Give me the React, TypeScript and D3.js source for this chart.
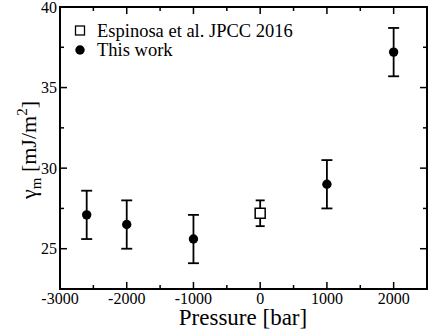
import React from "react";
import * as d3 from "d3";

const pressures = [-2600, -2000, -1000, 1000, 2000];
const gammaWork = [27.1, 26.5, 25.6, 29.0, 37.2];
const errWork = [1.5, 1.5, 1.5, 1.5, 1.5];

const refPressure = [0];
const refGamma = [27.2];
const refErr = [0.8];

const xTicks = [-3000, -2000, -1000, 0, 1000, 2000];
const yTicks = [25, 30, 35, 40];
const xMinor = [-2500, -1500, -500, 500, 1500];
const yMinor = [27.5, 32.5, 37.5];

const W = 429, H = 330;
const L = 60, R = 427, T = 7, B = 289;
const F = "Liberation Serif";

export default function App() {
  const x = d3.scaleLinear().domain([-3000, 2500]).range([L, R]);
  const y = d3.scaleLinear().domain([22.5, 40]).range([B, T]);
  const sw = 1.8;

  const errBar = (px: number, v: number, e: number, cap: number, key: string) => (
    <g key={key} stroke="#000" strokeWidth={sw}>
      <line x1={x(px)} x2={x(px)} y1={y(v - e)} y2={y(v + e)} />
      <line x1={x(px) - cap} x2={x(px) + cap} y1={y(v - e)} y2={y(v - e)} />
      <line x1={x(px) - cap} x2={x(px) + cap} y1={y(v + e)} y2={y(v + e)} />
    </g>
  );

  return (
    <svg width={W} height={H} style={{ position: "absolute", left: 0, top: 0 }}>
      <rect width={W} height={H} fill="#fff" />
      <g stroke="#000" strokeWidth={1.5}>
        {xTicks.map((t) => (
          <g key={"xt" + t}>
            <line x1={x(t)} x2={x(t)} y1={B} y2={B - 7} />
            <line x1={x(t)} x2={x(t)} y1={T} y2={T + 7} />
          </g>
        ))}
        {xMinor.map((t) => (
          <g key={"xm" + t}>
            <line x1={x(t)} x2={x(t)} y1={B} y2={B - 4} />
            <line x1={x(t)} x2={x(t)} y1={T} y2={T + 4} />
          </g>
        ))}
        {yTicks.map((t) => (
          <g key={"yt" + t}>
            <line x1={L} x2={L + 7} y1={y(t)} y2={y(t)} />
            <line x1={R} x2={R - 7} y1={y(t)} y2={y(t)} />
          </g>
        ))}
        {yMinor.map((t) => (
          <g key={"ym" + t}>
            <line x1={L} x2={L + 4} y1={y(t)} y2={y(t)} />
            <line x1={R} x2={R - 4} y1={y(t)} y2={y(t)} />
          </g>
        ))}
      </g>
      <rect x={L} y={T} width={R - L} height={B - T} fill="none" stroke="#000" strokeWidth={2} />
      {xTicks.map((t) => (
        <text key={"xl" + t} x={x(t)} y={304} fontSize={16} fontFamily={F} textAnchor="middle">
          {t}
        </text>
      ))}
      {yTicks.map((t) => (
        <text key={"yl" + t} x={57} y={y(t) + 5.5} fontSize={16} fontFamily={F} textAnchor="end">
          {t}
        </text>
      ))}
      <text x={243} y={325} fontSize={23} fontFamily={F} textAnchor="middle">
        Pressure [bar]
      </text>
      <text transform={`translate(36,${(T + B) / 2 + 2}) rotate(-90)`} fontSize={22} fontFamily={F} textAnchor="middle">
        γ<tspan fontSize={15} dy={5}>m</tspan>
        <tspan dy={-5}> [mJ/m</tspan>
        <tspan fontSize={15} dy={-9}>2</tspan>
        <tspan dy={9}>]</tspan>
      </text>
      {refPressure.map((p, i) => errBar(p, refGamma[i], refErr[i], 4.5, "re" + i))}
      {refPressure.map((p, i) => (
        <rect key={"rm" + i} x={x(p) - 5} y={y(refGamma[i]) - 5} width={10} height={10} fill="#fff" stroke="#000" strokeWidth={1.5} />
      ))}
      {pressures.map((p, i) => errBar(p, gammaWork[i], errWork[i], 5.5, "we" + i))}
      {pressures.map((p, i) => (
        <circle key={"wm" + i} cx={x(p)} cy={y(gammaWork[i])} r={4.7} fill="#000" />
      ))}
      <rect x={75.5} y={26} width={9} height={9} fill="#fff" stroke="#000" strokeWidth={1.3} />
      <text x={97} y={37} fontSize={18.5} fontFamily={F}>Espinosa et al. JPCC 2016</text>
      <circle cx={80} cy={50} r={4.7} fill="#000" />
      <text x={97} y={56} fontSize={18.5} fontFamily={F}>This work</text>
    </svg>
  );
}
